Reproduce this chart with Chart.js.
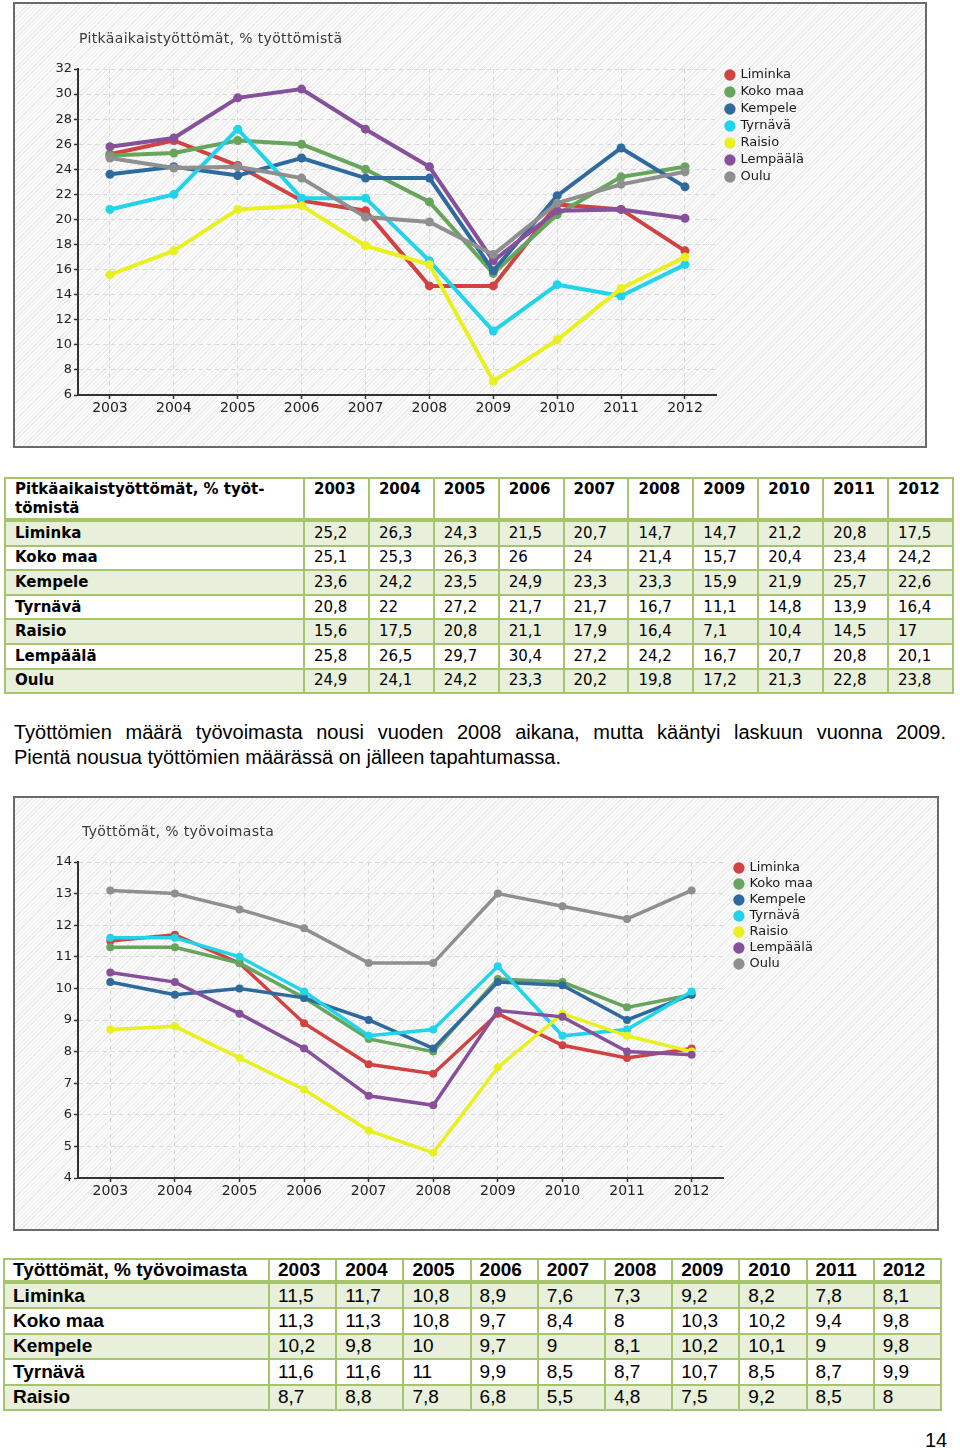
<!DOCTYPE html>
<html lang="fi">
<head>
<meta charset="utf-8">
<script src="https://cdn.jsdelivr.net/npm/chart.js@4.4.1/dist/chart.umd.min.js"></script>
<style>
  body { margin: 0; background: #fff; }
  #page { position: relative; width: 960px; height: 1450px; overflow: hidden; font-family: "DejaVu Sans", sans-serif; }
  .box {
    position: absolute; box-sizing: border-box; border: 2px solid #6a6a6a;
    background: repeating-linear-gradient(135deg, #ececec 0px, #ececec 1px, #fbfbfb 1px, #fbfbfb 3px);
  }
  .box canvas { position: absolute; left: 0; top: 0; }
  .ctitle { position: absolute; font-size: 14px; line-height: 16px; color: #3a3a3a; white-space: nowrap; letter-spacing: 0.35px; }
  table { position: absolute; border-collapse: collapse; table-layout: fixed; }
  td { border: 2px solid #a6c46c; padding: 0 0 0 9px; white-space: nowrap; overflow: hidden; }
  tr.head td { border-bottom: 4px solid #a6c46c; }
  tr.alt td { background: #e8efda; }
  #t1 { left: 4px; top: 477px; width: 948px; font-size: 15px; color: #000; }
  #t1 td { height: 22.6px; line-height: 19px; }
  #t1 tr.head td { height: 33.5px; vertical-align: top; padding-top: 1px; font-weight: bold; }
  #t1 td:first-child { font-weight: bold; }
  #t2 { left: 3px; top: 1258px; width: 937px; font-family: "Liberation Sans Narrow", "Arial Narrow", "Liberation Sans", sans-serif; font-size: 19px; color: #000; }
  #t2 td { height: 23.4px; line-height: 20px; padding-left: 8px; }
  #t2 tr.head td { font-weight: bold; height: 19px; }
  #t2 td:first-child { font-weight: bold; }
  .para { position: absolute; left: 14px; width: 932px; font-family: "Liberation Sans", Arial, sans-serif; font-size: 20px; line-height: 25px; color: #000; }
  #pnum { position: absolute; left: 925px; top: 1428px; font-family: "Liberation Sans Narrow", "Arial Narrow", sans-serif; font-size: 20px; line-height: 24px; }
</style>
</head>
<body>
<div id="page">
  <div class="box" style="left:13px; top:2px; width:914px; height:446px;">
    <canvas id="chart1" width="910" height="442"></canvas>
  </div>
  <div class="ctitle" style="left:79px; top:30px;">Pitkäaikaistyöttömät, % työttömistä</div>

  <table id="t1"></table>

  <div class="para" style="top:720px; text-align:justify; text-align-last:justify;">Työttömien määrä työvoimasta nousi vuoden 2008 aikana, mutta kääntyi laskuun vuonna 2009.</div>
  <div class="para" style="top:745px;">Pientä nousua työttömien määrässä on jälleen tapahtumassa.</div>

  <div class="box" style="left:13px; top:796px; width:926px; height:435px;">
    <canvas id="chart2" width="922" height="431"></canvas>
  </div>
  <div class="ctitle" style="left:82px; top:823px;">Työttömät, % työvoimasta</div>

  <table id="t2"></table>

  <div id="pnum">14</div>
</div>

<script>
const years = ['2003', '2004', '2005', '2006', '2007', '2008', '2009', '2010', '2011', '2012'];
const places = ['Liminka', 'Koko maa', 'Kempele', 'Tyrnävä', 'Raisio', 'Lempäälä', 'Oulu'];
const colors = ['#d14343', '#66a55b', '#2f6a9f', '#22d4ea', '#e9f01e', '#86509a', '#8f8f8f'];

// Pitkäaikaistyöttömät, % työttömistä
const liminkaPitka = [25.2, 26.3, 24.3, 21.5, 20.7, 14.7, 14.7, 21.2, 20.8, 17.5];
const kokoMaaPitka = [25.1, 25.3, 26.3, 26, 24, 21.4, 15.7, 20.4, 23.4, 24.2];
const kempelePitka = [23.6, 24.2, 23.5, 24.9, 23.3, 23.3, 15.9, 21.9, 25.7, 22.6];
const tyrnavaPitka = [20.8, 22, 27.2, 21.7, 21.7, 16.7, 11.1, 14.8, 13.9, 16.4];
const raisioPitka = [15.6, 17.5, 20.8, 21.1, 17.9, 16.4, 7.1, 10.4, 14.5, 17];
const lempaalaPitka = [25.8, 26.5, 29.7, 30.4, 27.2, 24.2, 16.7, 20.7, 20.8, 20.1];
const ouluPitka = [24.9, 24.1, 24.2, 23.3, 20.2, 19.8, 17.2, 21.3, 22.8, 23.8];

// Työttömät, % työvoimasta (Lempäälä ja Oulu luettu kuvasta)
const liminkaTyo = [11.5, 11.7, 10.8, 8.9, 7.6, 7.3, 9.2, 8.2, 7.8, 8.1];
const kokoMaaTyo = [11.3, 11.3, 10.8, 9.7, 8.4, 8, 10.3, 10.2, 9.4, 9.8];
const kempeleTyo = [10.2, 9.8, 10, 9.7, 9, 8.1, 10.2, 10.1, 9, 9.8];
const tyrnavaTyo = [11.6, 11.6, 11, 9.9, 8.5, 8.7, 10.7, 8.5, 8.7, 9.9];
const raisioTyo = [8.7, 8.8, 7.8, 6.8, 5.5, 4.8, 7.5, 9.2, 8.5, 8];
const lempaalaTyo = [10.5, 10.2, 9.2, 8.1, 6.6, 6.3, 9.3, 9.1, 8.0, 7.9];
const ouluTyo = [13.1, 13.0, 12.5, 11.9, 10.8, 10.8, 13.0, 12.6, 12.2, 13.1];

const pitkaSeries = [liminkaPitka, kokoMaaPitka, kempelePitka, tyrnavaPitka, raisioPitka, lempaalaPitka, ouluPitka];
const tyoSeries = [liminkaTyo, kokoMaaTyo, kempeleTyo, tyrnavaTyo, raisioTyo];
const tyoChartSeries = [liminkaTyo, kokoMaaTyo, kempeleTyo, tyrnavaTyo, raisioTyo, lempaalaTyo, ouluTyo];

Chart.defaults.font.family = '"DejaVu Sans", sans-serif';
Chart.defaults.color = '#222';

// siirtää selitettä vähän oikealle / ylös
const legendShift = {
  id: 'legendShift',
  afterLayout(chart, args, opts) {
    const l = chart.legend;
    l.left += opts.dx; l.right += opts.dx;
    l.top += opts.dy; l.bottom += opts.dy;
  }
};

function fmt(v) { return String(v).replace('.', ','); }

function makeChart(id, series, lw, pr, yMin, yMax, step, pad, legPad, shift) {
  const datasets = series.map((d, i) => ({
    label: places[i],
    data: d,
    borderColor: colors[i],
    backgroundColor: colors[i],
    borderWidth: lw,
    pointRadius: pr,
    pointBorderWidth: 0,
    tension: 0,
    order: series.length - i
  }));

  new Chart(document.getElementById(id), {
    type: 'line',
    data: { labels: years, datasets: datasets },
    plugins: [legendShift],
    options: {
      responsive: false,
      animation: false,
      devicePixelRatio: 1,
      layout: { padding: pad },
      plugins: {
        legend: {
          position: 'right',
          align: 'start',
          labels: {
            usePointStyle: true,
            pointStyle: 'circle',
            boxWidth: 8,
            boxHeight: 8,
            padding: legPad,
            color: '#1a1a1a',
            font: { size: 13 },
            sort: (a, b) => a.datasetIndex - b.datasetIndex
          }
        },
        legendShift: shift,
        tooltip: { enabled: false }
      },
      scales: {
        x: {
          offset: true,
          afterFit: s => { s.height = 30; },
          grid: { color: '#d8d8d8', tickColor: '#333', tickLength: 4, tickWidth: 1.5 },
          border: { color: '#333', width: 2, dash: [4, 4] },
          ticks: { padding: 1, font: { size: 14 }, color: '#222' }
        },
        y: {
          min: yMin,
          max: yMax,
          afterFit: s => { s.width = 40; },
          grid: { color: '#d8d8d8', tickColor: '#333', tickLength: 4, tickWidth: 1.5 },
          border: { color: '#333', width: 2, dash: [4, 4] },
          ticks: { stepSize: step, padding: 2, font: { size: 13 }, color: '#222' }
        }
      }
    }
  });
}

makeChart('chart1', pitkaSeries, 4, 4.5, 6, 32, 2,
  { left: 23, top: 65, right: 116, bottom: 21 }, 4, { dx: 5, dy: -4.5 });
makeChart('chart2', tyoChartSeries, 3.5, 4, 4, 14, 1,
  { left: 23, top: 64, right: 122, bottom: 21 }, 3, { dx: 8, dy: -3.5 });

function buildTable(id, title, series, firstW, colW) {
  const t = document.getElementById(id);
  let html = '<colgroup><col style="width:' + firstW + 'px">';
  years.forEach(() => { html += '<col style="width:' + colW + 'px">'; });
  html += '</colgroup>';
  html += '<tr class="head"><td>' + title + '</td>' + years.map(y => '<td>' + y + '</td>').join('') + '</tr>';
  series.forEach((d, i) => {
    html += '<tr' + (i % 2 === 0 ? ' class="alt"' : '') + '><td>' + places[i] + '</td>' +
      d.map(v => '<td>' + fmt(v) + '</td>').join('') + '</tr>';
  });
  t.innerHTML = html;
}

buildTable('t1', 'Pitkäaikaistyöttömät, % työt-<br>tömistä', pitkaSeries, 299, 64.9);
buildTable('t2', 'Työttömät, % työvoimasta', tyoSeries, 265, 67.2);
</script>
</body>
</html>
